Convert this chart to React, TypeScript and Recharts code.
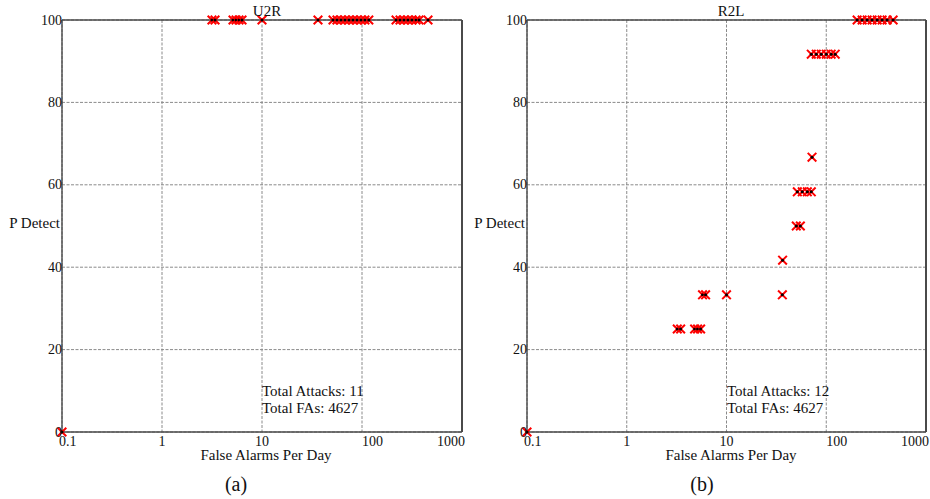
import React from 'react';
import { ScatterChart, Scatter, XAxis, YAxis, CartesianGrid, ReferenceLine } from 'recharts';

// U2R panel: false alarms per day vs. percent detected
const U2R_FA = [0.1, 3.16, 3.39, 5.13, 5.5, 5.89, 6.31, 10, 36.3, 51.3, 56.2, 61.7, 67.6, 74.1, 81.3, 89.1, 97.7, 107, 117, 219, 240, 263, 288, 316, 347, 372, 457];
const U2R_PD = [0, 100, 100, 100, 100, 100, 100, 100, 100, 100, 100, 100, 100, 100, 100, 100, 100, 100, 100, 100, 100, 100, 100, 100, 100, 100, 100];

// R2L panel
const R2L_FA = [0.1, 3.21, 3.47, 4.79, 5.13, 5.5, 5.75, 6.17, 10, 36.3, 36.5, 50.1, 55, 51.3, 57.5, 64.6, 70.8, 72, 70.8, 79.4, 89, 100, 112, 123, 204, 229, 257, 288, 324, 363, 407, 468];
const R2L_PD = [0, 25, 25, 25, 25, 25, 33.3, 33.3, 33.3, 33.3, 41.7, 50, 50, 58.3, 58.3, 58.3, 58.3, 66.7, 91.7, 91.7, 91.7, 91.7, 91.7, 91.7, 100, 100, 100, 100, 100, 100, 100, 100];

const X_TICKS = [0.1, 1, 10, 100, 1000];
const Y_TICKS = [0, 20, 40, 60, 80, 100];

const FONT = '"Liberation Serif", "Times New Roman", serif';
const FRAME = '#4a4a4a';

const Cross = (props: any) => {
  const { cx, cy } = props;
  const s = 4.3;
  return (
    <g>
      <path d={`M${cx - s},${cy - s}L${cx + s},${cy + s}M${cx - s},${cy + s}L${cx + s},${cy - s}`} stroke="#ff0000" strokeWidth={2} />
      <circle cx={cx} cy={cy} r={1.5} fill="#000" />
    </g>
  );
};

const XTick = (props: any) => {
  const { x, y, payload } = props;
  const v = payload.value;
  let anchor = 'middle';
  let dx = 0;
  if (v === 0.1) { anchor = 'start'; dx = -3; }
  if (v === 100) { anchor = 'start'; dx = 0; }
  if (v === 1000) { anchor = 'end'; dx = 3; }
  return (
    <text x={x + dx} y={y + 14} textAnchor={anchor} fontFamily={FONT} fontSize={14} fill="#111">
      {String(v)}
    </text>
  );
};

const YTick = (props: any) => {
  const { x, y, payload } = props;
  return (
    <text x={x} y={y + 4.5} textAnchor="end" fontFamily={FONT} fontSize={14} fill="#111">
      {payload.value}
    </text>
  );
};

function Panel({ fa, pd, title, attacks, left, width, rightMargin, titleX, labelX }: any) {
  const pts = fa.map((x: number, i: number) => ({ x, y: pd[i] }));
  return (
    <div style={{ position: 'absolute', left, top: 0 }}>
      <ScatterChart width={width} height={460} margin={{ top: 20, right: rightMargin, left: 2, bottom: 0 }}>
        <CartesianGrid stroke="#8a8a8a" strokeDasharray="3 1.5" />
        <XAxis
          type="number"
          dataKey="x"
          scale="log"
          domain={[0.1, 1000]}
          ticks={X_TICKS}
          height={28}
          tickLine={false}
          tickSize={0}
          tickMargin={0}
          axisLine={{ stroke: FRAME, strokeWidth: 1.4 }}
          tick={<XTick />}
          interval={0}
        />
        <YAxis
          type="number"
          dataKey="y"
          domain={[0, 100]}
          ticks={Y_TICKS}
          width={60}
          tickLine={false}
          tickSize={0}
          tickMargin={0}
          axisLine={{ stroke: FRAME, strokeWidth: 1.4 }}
          tick={<YTick />}
          interval={0}
        />
        <ReferenceLine y={100} stroke={FRAME} strokeWidth={1.4} />
        <ReferenceLine x={1000} stroke={FRAME} strokeWidth={2} />
        <Scatter data={pts} shape={<Cross />} isAnimationActive={false} />
      </ScatterChart>
      <div style={{ position: 'absolute', left: titleX - left - 30, width: 60, top: 4, textAlign: 'center', fontSize: 15, lineHeight: '15px' }}>{title}</div>
      <div style={{ position: 'absolute', left: 0, width: 60, top: 216, textAlign: 'right', fontSize: 15, lineHeight: '15px' }}>P Detect</div>
      <div style={{ position: 'absolute', left: labelX - left - 120, width: 240, top: 448, textAlign: 'center', fontSize: 15, lineHeight: '15px' }}>False Alarms Per Day</div>
      <div style={{ position: 'absolute', left: 262, top: 383, fontSize: 15, lineHeight: '17px', whiteSpace: 'nowrap' }}>
        <div>Total Attacks: {attacks}</div>
        <div>Total FAs: 4627</div>
      </div>
    </div>
  );
}

export default function App() {
  return (
    <div style={{ position: 'absolute', left: 0, top: 0, width: 930, height: 499, background: '#fff', fontFamily: FONT, color: '#111' }}>
      <Panel fa={U2R_FA} pd={U2R_PD} title="U2R" attacks={11} left={0} width={470} rightMargin={8} titleX={267} labelX={266} />
      <Panel fa={R2L_FA} pd={R2L_PD} title="R2L" attacks={12} left={465} width={465} rightMargin={4} titleX={731} labelX={731} />
      <div style={{ position: 'absolute', left: 196, width: 80, top: 473, textAlign: 'center', fontSize: 20, lineHeight: '22px' }}>(a)</div>
      <div style={{ position: 'absolute', left: 662, width: 80, top: 473, textAlign: 'center', fontSize: 20, lineHeight: '22px' }}>(b)</div>
    </div>
  );
}
